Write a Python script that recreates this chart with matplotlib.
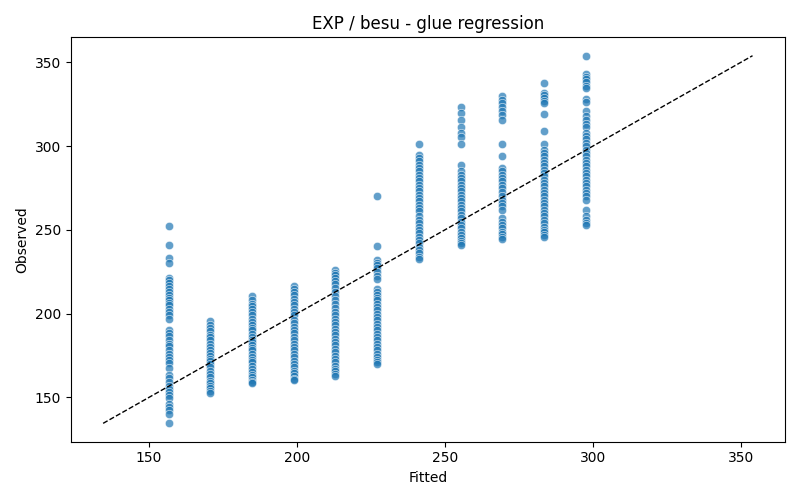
import matplotlib
matplotlib.use("Agg")
import matplotlib.pyplot as plt
import numpy as np

fitted_levels = [156.6, 170.7, 184.8, 198.9, 213.0, 227.1, 241.2, 255.3, 269.4, 283.5, 297.6]

obs_1 = [252.4, 241, 233.5, 230, 221.5, 220, 218.5, 216.5, 215, 213, 211, 209.5, 208, 206.5, 205, 203, 201, 199, 197,
         190, 188.5, 186.5, 184.5, 182, 180.5, 178.5, 176, 174, 172.5, 170.5, 167.5, 163.5, 161.5, 159, 157, 155,
         153.5, 151.5, 149.5, 146, 144, 142.5, 140, 134.5]
obs_2 = [195.5, 193.5, 191.5, 189.5, 187.5, 186, 184, 182, 180, 178, 176.5, 175, 173, 171.5, 170, 168, 166, 164, 162,
         160, 158.5, 157, 155.5, 154, 152.5]
obs_3 = [210.5, 208, 206, 204.5, 202.5, 201, 199, 197, 195, 193, 191.5, 190, 188, 186, 184.5, 183, 181, 179.5, 178,
         176, 174, 172.5, 171, 169, 167, 165, 163.5, 162, 160.5, 159, 158.5]
obs_4 = [216.5, 215, 213, 211, 209, 207, 205, 203, 201, 199, 196.5, 194.5, 192, 190, 188.5, 186, 184, 182, 180, 178,
         176, 174, 172, 170, 168, 166, 164.5, 162.5, 161, 160.5]
obs_5 = [226, 224.5, 223, 221.5, 219.5, 217.5, 215.5, 213, 210.5, 208, 206, 203.5, 201, 199, 197, 195, 193, 191, 189,
         187, 185, 183, 181, 179, 177, 175, 173, 171, 169, 167, 165.5, 164, 162.5]
obs_6 = [270, 240.5, 232, 230.5, 229, 227, 225, 222.5, 220.5, 215, 213, 211, 209.5, 208, 206, 204, 202, 200, 198, 196,
         194, 192, 190, 188, 186, 184, 182, 180, 178, 176, 174, 172.5, 171, 170]
obs_7 = [301, 295, 293, 291, 289, 287, 285, 283, 281, 279, 277, 275, 273, 271, 269, 267, 265, 263, 261, 258, 256, 254,
         252, 250, 248, 246, 244, 242, 240, 238, 236, 234, 232.5]
obs_8 = [323.5, 319.5, 315.5, 311.5, 308, 305.5, 301, 289, 285, 283, 281, 279, 277, 275, 273, 271, 269, 267, 265, 263,
         261, 259, 257, 255, 253, 251, 249, 247, 245, 243.5, 242, 241]
obs_9 = [330, 327.5, 325.5, 323.5, 321, 318.5, 315.5, 301, 294, 287, 285, 283, 281, 279, 277, 275, 272.5, 270.5, 268,
         266, 264, 262, 257, 255, 253, 251, 249, 247.5, 246, 244.5]
obs_10 = [338, 332, 330.5, 329, 327, 326, 319, 309, 301, 298, 296, 294, 292, 290, 288, 286, 284, 282, 280, 278, 276,
          274, 272, 270, 268, 266, 264, 262, 260, 258, 256, 254, 252, 250, 248.5, 247, 246]
obs_11 = [354, 343, 341.5, 340, 338.5, 336, 334.5, 328, 326.5, 321, 318, 315.5, 313, 311.5, 308, 306, 304, 302, 300,
          298, 296, 294, 292, 290, 288, 286, 284, 282, 280, 278, 276, 274, 272, 270, 268, 262, 258.5, 256, 254, 253]

observed_groups = [obs_1, obs_2, obs_3, obs_4, obs_5, obs_6, obs_7, obs_8, obs_9, obs_10, obs_11]

fitted = np.concatenate([[f] * len(g) for f, g in zip(fitted_levels, observed_groups)])
observed = np.concatenate([np.array(g, dtype=float) for g in observed_groups])

fig, ax = plt.subplots(figsize=(8, 5), dpi=100)
ax.scatter(fitted, observed, s=36, color="#1f77b4", alpha=0.7, edgecolors="white", linewidths=0.5)
lo = min(fitted.min(), observed.min())
hi = max(fitted.max(), observed.max())
ax.plot([lo, hi], [lo, hi], "k--", lw=1)
ax.set_xlabel("Fitted")
ax.set_ylabel("Observed")
ax.set_title("EXP / besu - glue regression")
fig.tight_layout()
fig.savefig("out.png", dpi=100)
